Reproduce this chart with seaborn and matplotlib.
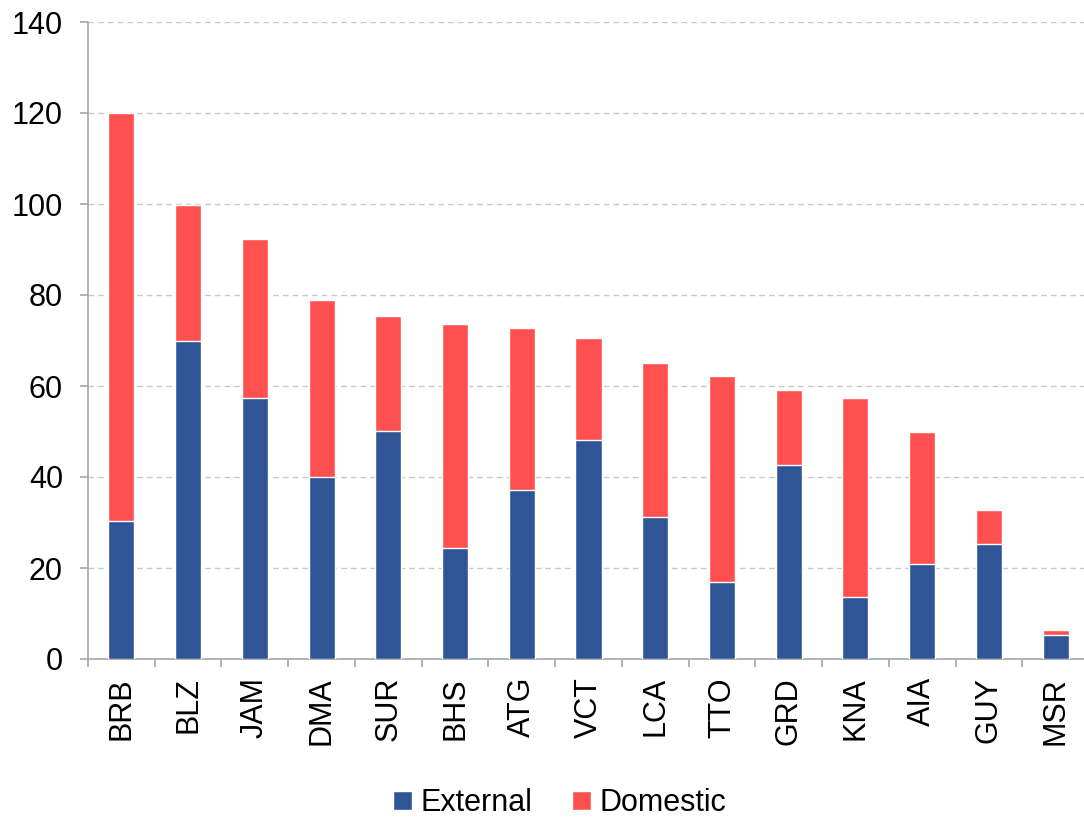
import numpy as np
import pandas as pd
import seaborn as sns
from matplotlib import pyplot as plt
from matplotlib.patches import Patch
from matplotlib.ticker import FixedLocator

countries = ["BRB", "BLZ", "JAM", "DMA", "SUR", "BHS", "ATG", "VCT",
             "LCA", "TTO", "GRD", "KNA", "AIA", "GUY", "MSR"]
external = [30.3, 69.9, 57.3, 40.0, 50.1, 24.4, 37.1, 48.1,
            31.2, 16.9, 42.6, 13.6, 20.9, 25.3, 5.3]
domestic = [89.7, 29.9, 35.0, 38.9, 25.3, 49.2, 35.6, 22.4,
            33.8, 45.3, 16.5, 43.8, 29.1, 7.4, 1.1]

BLUE = "#2F5597"
RED = "#FF5050"

sns.set_style("white")
plt.rcParams['font.family'] = ['Liberation Sans', 'DejaVu Sans']
plt.rcParams['text.color'] = "black"
plt.rcParams['xtick.labelcolor'] = "black"
plt.rcParams['ytick.labelcolor'] = "black"

df = pd.DataFrame({"country": countries, "External": external,
                   "Domestic": domestic})
df["Total"] = df["External"] + df["Domestic"]

fig = plt.figure(figsize=(10.84, 8.19), dpi=100)
ax = fig.add_axes([88 / 1084, 1 - 659 / 819, (1089 - 88) / 1084, (659 - 22) / 819])

# stacked: total in red underneath, external in blue on top of it
sns.barplot(data=df, x="country", y="Total", color=RED, width=0.39,
            saturation=1, ax=ax, zorder=3)
sns.barplot(data=df, x="country", y="External", color=BLUE, width=0.39,
            saturation=1, ax=ax, zorder=4)

ax.set_xlim(-0.5, len(countries) - 0.5)
ax.set_ylim(0, 140)
ax.set_yticks(np.arange(0, 141, 20))
ax.yaxis.grid(True, linestyle=(0, (4, 3)), color="#C8C8C8", linewidth=1, zorder=0)
ax.set_xlabel("")
ax.set_ylabel("")

for side in ["top", "right"]:
    ax.spines[side].set_visible(False)
for side in ["left", "bottom"]:
    ax.spines[side].set_color("#A6A6A6")
    ax.spines[side].set_linewidth(1.2)

ax.tick_params(axis="y", which="major", direction="out", length=6, width=1.2,
               color="#A6A6A6", labelsize=22, pad=12, left=True,
               labelcolor="black")
ax.tick_params(axis="x", which="major", length=0, labelsize=22, pad=13,
               labelrotation=90, labelcolor="black")
ax.xaxis.set_minor_locator(FixedLocator(np.arange(-0.5, len(countries), 1)))
ax.tick_params(axis="x", which="minor", direction="out", length=6, width=1.2,
               color="#A6A6A6", bottom=True)

handles = [Patch(facecolor=BLUE, label="External"),
           Patch(facecolor=RED, label="Domestic")]
fig.legend(handles=handles, loc="center", bbox_to_anchor=(560 / 1084, 1 - 803 / 819),
           ncol=2, frameon=False, fontsize=22, handlelength=0.6, handleheight=0.6,
           handletextpad=0.3, columnspacing=1.3)

fig.savefig("out.png", dpi=100)
